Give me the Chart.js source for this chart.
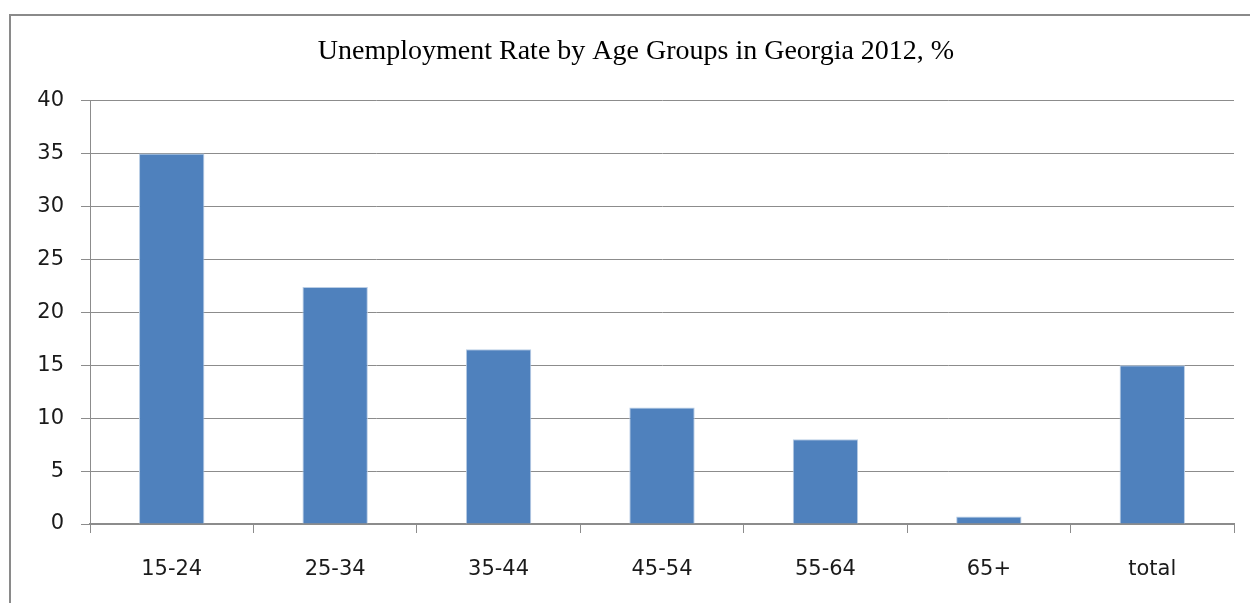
<!DOCTYPE html>
<html>
<head>
<meta charset="utf-8">
<script src="https://cdn.jsdelivr.net/npm/chart.js@4.4.1/dist/chart.umd.min.js"></script>
<style>
  html, body { margin: 0; padding: 0; background: #fff; }
  #wrap { position: relative; width: 1250px; height: 603px; }
</style>
</head>
<body>
<div id="wrap"><canvas id="c" width="1250" height="603"></canvas></div>
<script>
const titleText = 'Unemployment Rate by Age Groups in Georgia 2012, %';
const categories = ['15-24', '25-34', '35-44', '45-54', '55-64', '65+', 'total'];
const rates = [35.0, 22.4, 16.5, 11.0, 8.0, 0.7, 15.0];
const yMin = 0, yMax = 40, yStep = 5;

const framePlugin = {
  id: 'frame',
  beforeDraw(chart) {
    const ctx = chart.ctx;
    ctx.save();
    ctx.fillStyle = '#ffffff';
    ctx.fillRect(0, 0, chart.width, chart.height);
    ctx.strokeStyle = '#8a8a8a';
    ctx.lineWidth = 2;
    ctx.strokeRect(10, 15, 1300, 700);
    ctx.restore();
  }
};

new Chart(document.getElementById('c'), {
  type: 'bar',
  data: {
    labels: categories,
    datasets: [{
      label: 'Unemployment rate',
      data: rates,
      backgroundColor: '#4f81bd',
      borderColor: '#b9cde5',
      borderWidth: 1,
      barPercentage: 0.8,
      categoryPercentage: 0.5
    }]
  },
  options: {
    responsive: false,
    animation: false,
    layout: { padding: { left: 38, right: 16, top: 35, bottom: 0 } },
    plugins: {
      legend: { display: false },
      tooltip: { enabled: false },
      title: {
        display: true,
        text: titleText,
        color: '#000',
        font: { family: 'Liberation Serif', size: 28, weight: 'normal' },
        padding: { top: 0, bottom: 32 }
      }
    },
    scales: {
      x: {
        offset: true,
        grid: { display: true, drawOnChartArea: false, drawTicks: true, tickLength: 9, color: '#8c8c8c', lineWidth: 1 },
        border: { display: true, color: '#8c8c8c', width: 2 },
        ticks: { color: '#1a1a1a', font: { family: 'DejaVu Sans', size: 21 }, padding: 24 },
        afterFit(s) { s.height = 79; }
      },
      y: {
        min: yMin, max: yMax,
        ticks: { stepSize: yStep, color: '#1a1a1a', font: { family: 'DejaVu Sans', size: 21 }, padding: 17 },
        grid: { color: '#8c8c8c', lineWidth: 1, tickLength: 9 },
        border: { display: true, color: '#8c8c8c', width: 1 },
        afterFit(s) { s.width = 52; }
      }
    }
  },
  plugins: [framePlugin]
});
</script>
</body>
</html>
